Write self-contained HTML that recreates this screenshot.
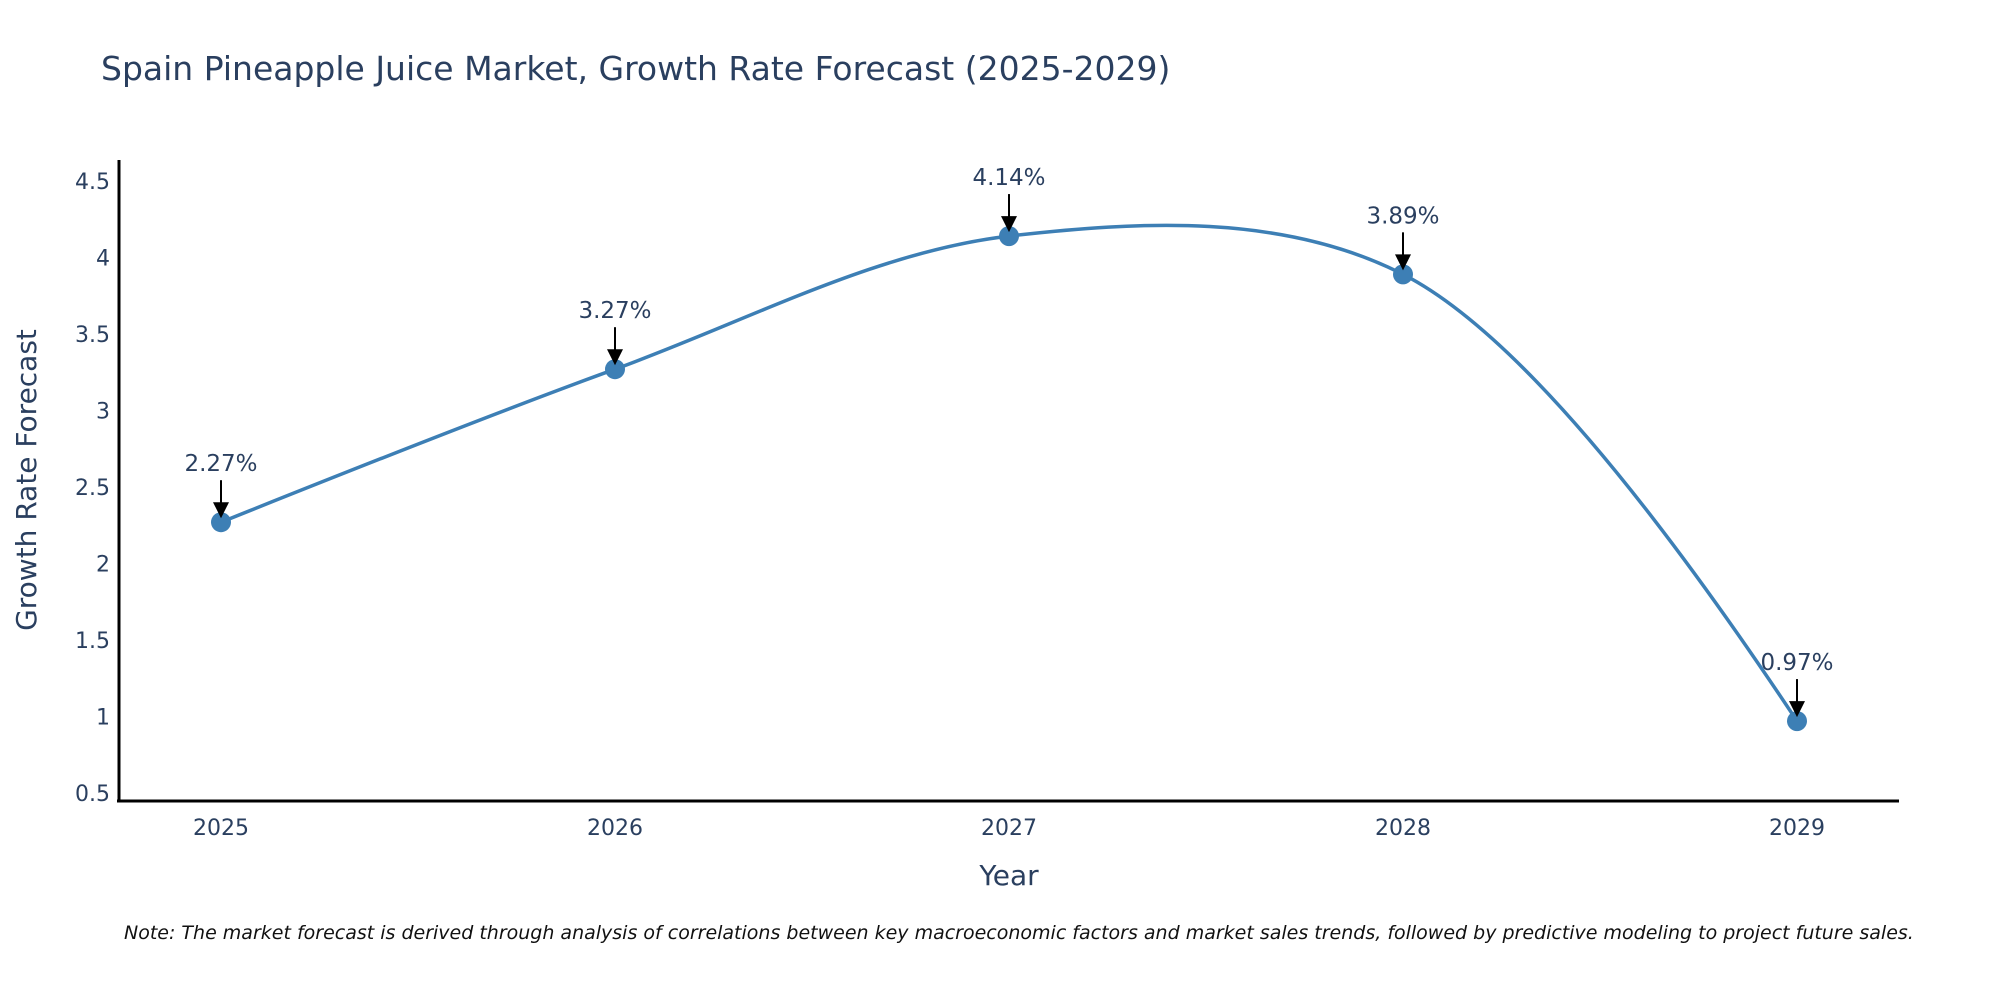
<!DOCTYPE html>
<html><head><meta charset="utf-8"><style>
body{margin:0;background:#fff;overflow:hidden;}
svg{display:block;font-family:"DejaVu Sans","Liberation Sans",sans-serif;}
</style></head><body>
<svg id="chart" width="2000" height="1000" viewBox="0 0 2000 1000">
<text x="101" y="80" font-size="33" fill="#2a3f5f">Spain Pineapple Juice Market, Growth Rate Forecast (2025-2029)</text>
<g id="yticks"></g>
<g id="xticks"></g>
<path id="series-line" fill="none" stroke="#3d7fb5" stroke-width="3.5"/>
<g id="marks"></g>
<line x1="119" y1="160" x2="119" y2="802" stroke="#000" stroke-width="3"/>
<line x1="117" y1="801" x2="1899" y2="801" stroke="#000" stroke-width="3"/>
<text x="1009" y="885" font-size="28" fill="#2a3f5f" text-anchor="middle">Year</text>
<text transform="translate(36,480) rotate(-90)" font-size="28" fill="#2a3f5f" text-anchor="middle">Growth Rate Forecast</text>
<text x="124" y="939" font-size="19" font-style="italic" fill="#111">Note: The market forecast is derived through analysis of correlations between key macroeconomic factors and market sales trends, followed by predictive modeling to project future sales.</text>
</svg>
<script>
const years = [2025, 2026, 2027, 2028, 2029];
const growth = [2.27, 3.27, 4.14, 3.89, 0.97];
const labels = ["2.27%", "3.27%", "4.14%", "3.89%", "0.97%"];
const yTicks = [0.5, 1, 1.5, 2, 2.5, 3, 3.5, 4, 4.5];
const yTickLabels = ["0.5", "1", "1.5", "2", "2.5", "3", "3.5", "4", "4.5"];

const NS = "http://www.w3.org/2000/svg";
const xScale = v => 221 + (v - 2025) * 394;
const yScale = v => 793 - (v - 0.5) * 153;

const yg = document.getElementById('yticks');
yTicks.forEach((t, i) => {
  const el = document.createElementNS(NS, 'text');
  
  
  el.setAttribute('x', 110); el.setAttribute('y', yScale(t) + 8);
  el.setAttribute('text-anchor', 'end'); el.setAttribute('font-size', '22'); el.setAttribute('fill', '#2a3f5f');
  el.textContent = yTickLabels[i];
  yg.appendChild(el);
});
const xg = document.getElementById('xticks');
years.forEach(y => {
  const el = document.createElementNS(NS, 'text');
  
  
  el.setAttribute('x', xScale(y)); el.setAttribute('y', 835);
  el.setAttribute('text-anchor', 'middle'); el.setAttribute('font-size', '22'); el.setAttribute('fill', '#2a3f5f');
  el.textContent = String(y);
  xg.appendChild(el);
});

const pts = years.map((y, i) => [xScale(y), yScale(growth[i])]);
function tangent(p, c, n, s) {
  const d1x = p[0]-c[0], d1y = p[1]-c[1], d2x = n[0]-c[0], d2y = n[1]-c[1];
  const d1a = Math.pow(d1x*d1x+d1y*d1y, 0.25), d2a = Math.pow(d2x*d2x+d2y*d2y, 0.25);
  const nx = (d2a*d2a*d1x - d1a*d1a*d2x)*s, ny = (d2a*d2a*d1y - d1a*d1a*d2y)*s;
  const den1 = 3*d2a*(d1a+d2a), den2 = 3*d1a*(d1a+d2a);
  return [[c[0]+nx/den1, c[1]+ny/den1], [c[0]-nx/den2, c[1]-ny/den2]];
}
const tg = [];
for (let i = 1; i < pts.length-1; i++) tg.push(tangent(pts[i-1], pts[i], pts[i+1], 1));
let d = `M${pts[0]} Q${tg[0][0]} ${pts[1]}`;
for (let i = 2; i < pts.length-1; i++) d += ` C${tg[i-2][1]} ${tg[i-1][0]} ${pts[i]}`;
d += ` Q${tg[tg.length-1][1]} ${pts[pts.length-1]}`;
document.getElementById('series-line').setAttribute('d', d);

const mg = document.getElementById('marks');
pts.forEach((p, i) => {
  const c = document.createElementNS(NS, 'circle');
  
  
  c.setAttribute('cx', p[0]); c.setAttribute('cy', p[1]); c.setAttribute('r', 10); c.setAttribute('fill', '#3d7fb5');
  mg.appendChild(c);
  const l = document.createElementNS(NS, 'line');
  
  
  l.setAttribute('x1', p[0]); l.setAttribute('y1', p[1]-42); l.setAttribute('x2', p[0]); l.setAttribute('y2', p[1]-14);
  l.setAttribute('stroke', '#000'); l.setAttribute('stroke-width', '2');
  mg.appendChild(l);
  const h = document.createElementNS(NS, 'polygon');
  
  
  h.setAttribute('points', `${p[0]-8},${p[1]-20} ${p[0]+8},${p[1]-20} ${p[0]},${p[1]-4}`);
  h.setAttribute('fill', '#000');
  mg.appendChild(h);
  const t = document.createElementNS(NS, 'text');
  
  
  t.setAttribute('x', p[0]); t.setAttribute('y', p[1]-51);
  t.setAttribute('text-anchor', 'middle'); t.setAttribute('font-size', '23'); t.setAttribute('fill', '#2a3f5f');
  t.textContent = labels[i];
  mg.appendChild(t);
});
</script>
</body></html>
